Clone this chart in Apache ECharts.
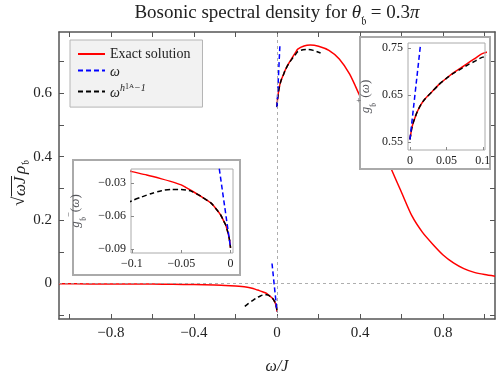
<!DOCTYPE html>
<html><head><meta charset="utf-8">
<script src="https://cdn.jsdelivr.net/npm/echarts@6/dist/echarts.min.js"></script>
<style>html,body{margin:0;padding:0;background:#fff}#c{width:498px;height:380px}</style>
</head><body><div id="c"></div>
<script>
// ---------- data ----------
const exactNegW = [-1.05,-0.9,-0.8,-0.7,-0.6,-0.5,-0.4,-0.3,-0.25,-0.2,-0.15,-0.12,-0.1,-0.085,-0.07,-0.06,-0.05,-0.045,-0.04,-0.03,-0.02,-0.015,-0.01,-0.0075,-0.005,-0.0025,-0.001,0];
const exactNegG = [-0.001,-0.0013,-0.0015,-0.0018,-0.002,-0.0027,-0.0035,-0.005,-0.006,-0.008,-0.011,-0.015,-0.0194,-0.0225,-0.026,-0.0285,-0.0315,-0.034,-0.0366,-0.042,-0.048,-0.053,-0.059,-0.0635,-0.068,-0.0755,-0.082,-0.089];
const exactPosW = [0,0.0025,0.005,0.0075,0.01,0.015,0.02,0.03,0.04,0.05,0.06,0.07,0.08,0.09,0.1,0.13,0.16,0.2,0.25,0.3,0.35,0.4,0.45,0.5,0.55,0.6,0.65,0.7,0.75,0.8,0.85,0.9,0.95,1.0,1.05];
const exactPosG = [0.556,0.58,0.594,0.605,0.615,0.63,0.641,0.657,0.673,0.686,0.698,0.708,0.719,0.729,0.739,0.749,0.752,0.748,0.735,0.708,0.66,0.59,0.52,0.445,0.362,0.287,0.213,0.162,0.124,0.09,0.065,0.047,0.035,0.028,0.023];
const powerNegW = [-0.155,-0.14,-0.12,-0.1,-0.09,-0.08,-0.07,-0.06,-0.05,-0.045,-0.04,-0.03,-0.02,-0.015,-0.01,-0.0075,-0.005,-0.0025,-0.001,0];
const powerNegG = [-0.072,-0.064,-0.055,-0.046,-0.0425,-0.0393,-0.0368,-0.0356,-0.0358,-0.0363,-0.0372,-0.042,-0.048,-0.053,-0.059,-0.0635,-0.068,-0.0755,-0.082,-0.089];
const powerPosW = [0,0.0025,0.005,0.0075,0.01,0.015,0.02,0.03,0.04,0.05,0.06,0.07,0.08,0.09,0.1,0.125,0.15,0.175,0.21];
const powerPosG = [0.556,0.58,0.594,0.605,0.615,0.63,0.641,0.657,0.673,0.686,0.697,0.706,0.715,0.723,0.731,0.737,0.738,0.735,0.727];
const linearNegW = [-0.024,0];
const linearNegG = [0.063,-0.089];
const linearPosW = [0,0.0145];
const linearPosG = [0.556,0.758];

const mainXTicks = [-1,-0.8,-0.6,-0.4,-0.2,0,0.2,0.4,0.6,0.8,1];
const mainXLabels = [-0.8,-0.4,0,0.4,0.8];
const mainYTicks = [-0.1,0,0.1,0.2,0.3,0.4,0.5,0.6,0.7];
const mainYLabels = [0,0.2,0.4,0.6];
const posInsetXLabels = [0,0.05,0.1];
const posInsetYLabels = [0.55,0.65,0.75];
const negInsetXLabels = [-0.1,-0.05,0];
const negInsetYLabels = [-0.03,-0.06,-0.09];

const NAME_EXACT = 'Exact solution';
const NAME_LIN = 'ω';
const NAME_POW = 'ω^(h1A-1)';

// ---------- chart ----------
const FONT = '"Liberation Serif", "DejaVu Serif", serif';
const zip = (xs, ys) => xs.map((x, i) => [x, ys[i]]);
const fmt = v => (v < 0 ? '\u2212' : '') + String(Math.abs(v));
const FRAME = '#555';
const IFRAME = '#aaa';
const FRAK_B = '\uD835\uDD1F';

function mainAxis(pos, ticks, labels, showLabels, extra) {
  return Object.assign({
    gridIndex: 0, type: 'value', position: pos,
    axisLine: {show: true, onZero: false, lineStyle: {color: FRAME, width: 1.5}},
    axisTick: {show: true, inside: true, length: 5, customValues: ticks, lineStyle: {color: FRAME, width: 1}},
    axisLabel: {show: showLabels, customValues: labels, formatter: fmt, fontFamily: FONT, fontSize: 15, color: '#222', margin: 7},
    splitLine: {show: false}
  }, extra);
}
function insetAxis(grid, pos, min, max, labels, extra) {
  return Object.assign({
    gridIndex: grid, type: 'value', position: pos, min: min, max: max, z: 112,
    axisLine: {show: false, onZero: false},
    axisTick: {show: true, inside: true, length: 3, customValues: labels, lineStyle: {color: '#888'}},
    axisLabel: {customValues: labels, formatter: fmt, fontFamily: FONT, fontSize: 12, color: '#222', margin: 5},
    splitLine: {show: false}
  }, extra);
}
const gName = sign => '{g|g}{sub|' + FRAK_B + '}{sup|' + sign + '}{n|(}{g|ω}{n|)}';
const gRich = {
  g: {fontFamily: FONT, fontStyle: 'italic', fontSize: 13, lineHeight: 18, verticalAlign: 'middle'},
  n: {fontFamily: FONT, fontSize: 13, lineHeight: 18, verticalAlign: 'middle'},
  sub: {fontFamily: FONT, fontSize: 9, lineHeight: 24, verticalAlign: 'bottom'},
  sup: {fontFamily: FONT, fontSize: 9, lineHeight: 10, verticalAlign: 'top'}
};

function line(name, data, color, dashed, xi, yi, z, extra) {
  return Object.assign({
    type: 'line', name: name, data: data, xAxisIndex: xi, yAxisIndex: yi,
    showSymbol: false, symbol: 'none', z: z, clip: true, animation: false,
    smooth: 0.25,
    lineStyle: {color: color, width: 1.5, type: dashed ? [5, 3] : 'solid'},
    itemStyle: {color: color}
  }, extra || {});
}

const series = [
  line(NAME_EXACT, zip(exactNegW, exactNegG), '#ff0000', false, 0, 0, 2),
  line(NAME_EXACT, zip(exactPosW, exactPosG), '#ff0000', false, 0, 0, 2, {
    markLine: {silent: true, symbol: ['none', 'none'], animation: false, label: {show: false},
      lineStyle: {color: '#999', type: [3, 3], width: 0.8},
      data: [{xAxis: 0}, {yAxis: 0}]}
  }),
  line(NAME_POW, zip(powerNegW, powerNegG), '#000', true, 0, 0, 3),
  line(NAME_POW, zip(powerPosW, powerPosG), '#000', true, 0, 0, 3),
  line(NAME_LIN, zip(linearNegW, linearNegG), '#0000ff', true, 0, 0, 4),
  line(NAME_LIN, zip(linearPosW, linearPosG), '#0000ff', true, 0, 0, 4),
  // positive inset
  line(NAME_EXACT, zip(exactPosW, exactPosG), '#ff0000', false, 2, 2, 110),
  line(NAME_POW, zip(powerPosW, powerPosG), '#000', true, 2, 2, 111),
  line(NAME_LIN, zip(linearPosW, linearPosG), '#0000ff', true, 2, 2, 111),
  // negative inset
  line(NAME_EXACT, zip(exactNegW, exactNegG), '#ff0000', false, 3, 3, 110),
  line(NAME_POW, zip(powerNegW, powerNegG), '#000', true, 3, 3, 111),
  line(NAME_LIN, zip(linearNegW, linearNegG), '#0000ff', true, 3, 3, 111)
];

const option = {
  animation: false,
  backgroundColor: '#fff',
  grid: [
    {left: 59, top: 32, right: 3, bottom: 57},
    {left: 408, top: 43, width: 77, height: 107, show: true, borderColor: IFRAME, borderWidth: 1, backgroundColor: 'transparent', z: 111},
    {left: 131, top: 169, width: 102, height: 84, show: true, borderColor: IFRAME, borderWidth: 1, backgroundColor: 'transparent', z: 111}
  ],
  xAxis: [
    mainAxis('bottom', mainXTicks, mainXLabels, true, {min: -1.05, max: 1.05,
      name: 'ω/J', nameLocation: 'middle', nameGap: 40,
      nameTextStyle: {fontFamily: FONT, fontStyle: 'italic', fontSize: 16, color: '#222'}}),
    mainAxis('top', mainXTicks, mainXLabels, false, {min: -1.05, max: 1.05}),
    insetAxis(1, 'bottom', -0.0027, 0.103, posInsetXLabels),
    insetAxis(2, 'bottom', -0.101, 0.0025, negInsetXLabels)
  ],
  yAxis: [
    mainAxis('left', mainYTicks, mainYLabels, true, {min: -0.112, max: 0.793}),
    mainAxis('right', mainYTicks, mainYLabels, false, {min: -0.112, max: 0.793}),
    insetAxis(1, 'left', 0.5336, 0.761, posInsetYLabels, {
      name: gName('+'), nameLocation: 'middle', nameGap: 30, nameRotate: 90,
      nameTextStyle: {rich: gRich}}),
    insetAxis(2, 'left', -0.0937, -0.017, negInsetYLabels, {
      name: gName('\u2212'), nameLocation: 'middle', nameGap: 43, nameRotate: 90,
      nameTextStyle: {rich: gRich}})
  ],
  legend: {
    data: [NAME_EXACT, NAME_LIN, NAME_POW],
    orient: 'vertical', left: 70, top: 40,
    backgroundColor: '#f2f2f2', borderColor: '#b5b5b5', borderWidth: 1,
    padding: [7, 12, 7, 7], itemGap: 4, itemWidth: 27, itemHeight: 14,
    selectedMode: false,
    itemStyle: {opacity: 0},
    formatter: n => n === NAME_EXACT ? '{t|Exact solution}' : n === NAME_LIN ? '{i|ω}' : '{i|ω}{s|h}{ss|1}{sa|A}{s|\u22121}',
    textStyle: {
      color: '#222',
      rich: {
        t: {fontFamily: FONT, fontSize: 14, lineHeight: 18},
        i: {fontFamily: FONT, fontSize: 14, fontStyle: 'italic', lineHeight: 17, verticalAlign: 'bottom'},
        s: {fontFamily: FONT, fontSize: 10, fontStyle: 'italic', lineHeight: 12, verticalAlign: 'top'},
        ss: {fontFamily: FONT, fontSize: 8, lineHeight: 17, verticalAlign: 'top'},
        sa: {fontFamily: FONT, fontSize: 7, lineHeight: 8, verticalAlign: 'top'}
      }
    }
  },
  graphic: [
    {type: 'rect', z: 100, shape: {x: 360, y: 37, width: 130, height: 132}, style: {fill: '#fff', stroke: IFRAME, lineWidth: 2}},
    {type: 'rect', z: 100, shape: {x: 73, y: 160, width: 167, height: 115}, style: {fill: '#fff', stroke: IFRAME, lineWidth: 2}},
    {type: 'text', z: 100, x: 277, y: 13, style: {
      text: 'Bosonic spectral density for {i|θ}{sub|' + FRAK_B + '} = 0.3{i|π}',
      align: 'center', verticalAlign: 'middle', fill: '#222',
      font: '19px ' + FONT,
      rich: {
        i: {fontFamily: FONT, fontSize: 19, fontStyle: 'italic', lineHeight: 22, verticalAlign: 'middle'},
        sub: {fontFamily: FONT, fontSize: 12, lineHeight: 30, verticalAlign: 'bottom'}
      }}},
    {type: 'group', x: 20, y: 178, rotation: Math.PI / 2, z: 100, children: [
      {type: 'text', x: -28, y: 0, style: {text: '√', font: '17px ' + FONT, fill: '#222', verticalAlign: 'middle'}},
      {type: 'text', x: -18, y: 1, style: {text: 'ωJ', font: 'italic 17px ' + FONT, fill: '#222', verticalAlign: 'middle'}},
      {type: 'line', shape: {x1: -18.5, y1: -8.5, x2: 2, y2: -8.5}, style: {stroke: '#222', lineWidth: 1}},
      {type: 'text', x: 4, y: 1, style: {text: 'ρ', font: 'italic 17px ' + FONT, fill: '#222', verticalAlign: 'middle'}},
      {type: 'text', x: 13, y: 6, style: {text: FRAK_B, font: '11px ' + FONT, fill: '#222', verticalAlign: 'middle'}}
    ]}
  ],
  series: series
};
const chart = echarts.init(document.getElementById('c'), null, {renderer: 'canvas'});
chart.setOption(option);
</script>
</body></html>
